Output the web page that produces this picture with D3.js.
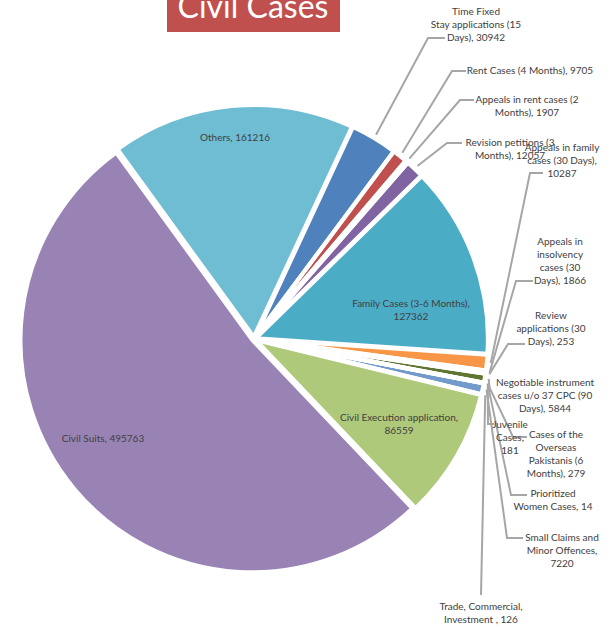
<!DOCTYPE html>
<html>
<head>
<meta charset="utf-8">
<script src="https://cdn.jsdelivr.net/npm/d3@7"></script>
<style>
  html, body { margin: 0; padding: 0; background: #fff; }
  svg { display: block; }
</style>
</head>
<body>
<div id="chart"></div>
<script>
// ---- data ----
const categories = [
  "Time Fixed Stay applications (15 Days)",
  "Rent  Cases (4 Months)",
  "Appeals in rent cases (2 Months)",
  "Revision petitions (3 Months)",
  "Family Cases (3-6 Months)",
  "Appeals in family cases (30 Days)",
  "Appeals in insolvency cases (30 Days)",
  "Review applications (30 Days)",
  "Negotiable instrument cases u/o 37 CPC (90 Days)",
  "Juvenile Cases",
  "Cases of the Overseas Pakistanis (6 Months)",
  "Prioritized Women Cases",
  "Small Claims and Minor Offences",
  "Trade, Commercial, Investment",
  "Civil Execution application",
  "Civil Suits",
  "Others"
];
const values = [30942, 9705, 1907, 12057, 127362, 10287, 1866, 253, 5844, 181, 279, 14, 7220, 126, 86559, 495763, 161216];
const sliceColors = ["#4F81BD","#C0504D","#9BBB59","#8064A2","#4BACC6","#F79646","#2C4D75","#772C2A","#5F7530","#4D3B62","#276A7C","#B65708","#729ACA","#CD7371","#AFC97A","#9983B5","#6FBDD3"];
// label text lines (as shown in the chart)
const labelLines = [
  ["Time Fixed","Stay applications (15","Days), 30942"],
  ["Rent  Cases (4 Months), 9705"],
  ["Appeals in rent cases (2","Months),  1907"],
  ["Revision petitions (3","Months), 12057"],
  ["Family Cases (3-6 Months),","127362"],
  ["Appeals in family","cases (30 Days),","10287"],
  ["Appeals in","insolvency","cases (30","Days), 1866"],
  ["Review","applications (30","Days), 253"],
  ["Negotiable instrument","cases u/o 37 CPC (90","Days), 5844"],
  ["Juvenile","Cases,","181"],
  ["Cases of the","Overseas","Pakistanis (6","Months),  279"],
  ["Prioritized","Women Cases, 14"],
  ["Small Claims and","Minor Offences,","7220"],
  ["Trade, Commercial,","Investment , 126"],
  ["Civil Execution application,","86559"],
  ["Civil Suits, 495763"],
  ["Others, 161216"]
];
const title = "Civil Cases";

// ---- layout (positions only) ----
const W = 614, H = 627;
const cx = 254, cy = 339, R = 232, explode = 2;
const startDeg = 25;
const lineH = 13.3;
// label anchor [x, y of first line], leader elbow [x,y] and end x of horizontal
const labelLayout = [
  {x:476, y:11,  elbow:[428,38],  endX:445},
  {x:530, y:70,  elbow:[452,71],  endX:466},
  {x:527, y:99,  elbow:[460,100], endX:474},
  {x:510, y:142, elbow:[447,143], endX:462},
  {x:411, y:303, inside:true},
  {x:562, y:147, elbow:[530,173], endX:543},
  {x:560, y:241, elbow:[516,281], endX:533},
  {x:551, y:315, elbow:[508,344], endX:525},
  {x:545, y:382, elbow:[490,392], endX:490},
  {x:510, y:424, elbow:[488,424], endX:494},
  {x:556, y:434, elbow:[513,437], endX:527},
  {x:553, y:493, elbow:[511,495], endX:527},
  {x:562, y:537, elbow:[507,538], endX:523},
  {x:481, y:606, elbow:[481,595], endX:481},
  {x:399, y:417, inside:true},
  {x:103, y:438, inside:true},
  {x:235, y:137, inside:true}
];

const svg = d3.select("#chart").append("svg")
  .attr("width", W).attr("height", H)
  .style("font-family", "Lato, 'Open Sans', sans-serif");

const data = categories.map((c, i) => ({name: c, value: values[i], i}));
const rad = Math.PI / 180;
const pie = d3.pie().sort(null).value(d => d.value)
  .startAngle(startDeg * rad).endAngle(startDeg * rad + 2 * Math.PI);
const arcs = pie(data);
const arc = d3.arc().innerRadius(0).outerRadius(R);
const leaderArc = d3.arc().innerRadius(R + 4).outerRadius(R + 4);

const mid = a => (a.startAngle + a.endAngle) / 2;
const off = a => [explode * Math.sin(mid(a)), -explode * Math.cos(mid(a))];

const g = svg.append("g").attr("transform", `translate(${cx},${cy})`);
// fills
g.append("g").selectAll("path").data(arcs).join("path")
  .attr("transform", a => `translate(${off(a)[0]},${off(a)[1]})`)
  .attr("d", arc)
  .attr("fill", a => sliceColors[a.data.i]);
// white borders on top
g.append("g").selectAll("path").data(arcs).join("path")
  .attr("transform", a => `translate(${off(a)[0]},${off(a)[1]})`)
  .attr("d", arc)
  .attr("fill", "none")
  .attr("stroke", "#fff")
  .attr("stroke-width", 4);

// leader lines
const leaders = svg.append("g");
arcs.forEach(a => {
  const L = labelLayout[a.data.i];
  if (L.inside) return;
  const p = leaderArc.centroid(a);
  const o = off(a);
  const sx = cx + p[0] + o[0], sy = cy + p[1] + o[1];
  const pts = [[sx, sy], L.elbow, [L.endX, L.elbow[1]]];
  leaders.append("path")
    .attr("d", d3.line()(pts))
    .attr("fill", "none")
    .attr("stroke", "#A6A6A6")
    .attr("stroke-width", 2);
});

// labels
const labels = svg.append("g");
arcs.forEach(a => {
  const L = labelLayout[a.data.i];
  const t = labels.append("text")
    .attr("text-anchor", "middle")
    .attr("font-size", 10)
    .attr("fill", "#404040");
  labelLines[a.data.i].forEach((ln, k) => {
    t.append("tspan").attr("x", L.x).attr("y", L.y + k * lineH)
      .attr("dy", "0.35em").text(ln);
  });
});

// title
svg.append("rect").attr("x", 167).attr("y", -5).attr("width", 173).attr("height", 37)
  .attr("fill", "#C0504D");
svg.append("text").attr("x", 253).attr("y", 18).attr("text-anchor", "middle")
  .attr("font-size", 32).attr("fill", "#fff").text(title);
</script>
</body>
</html>
